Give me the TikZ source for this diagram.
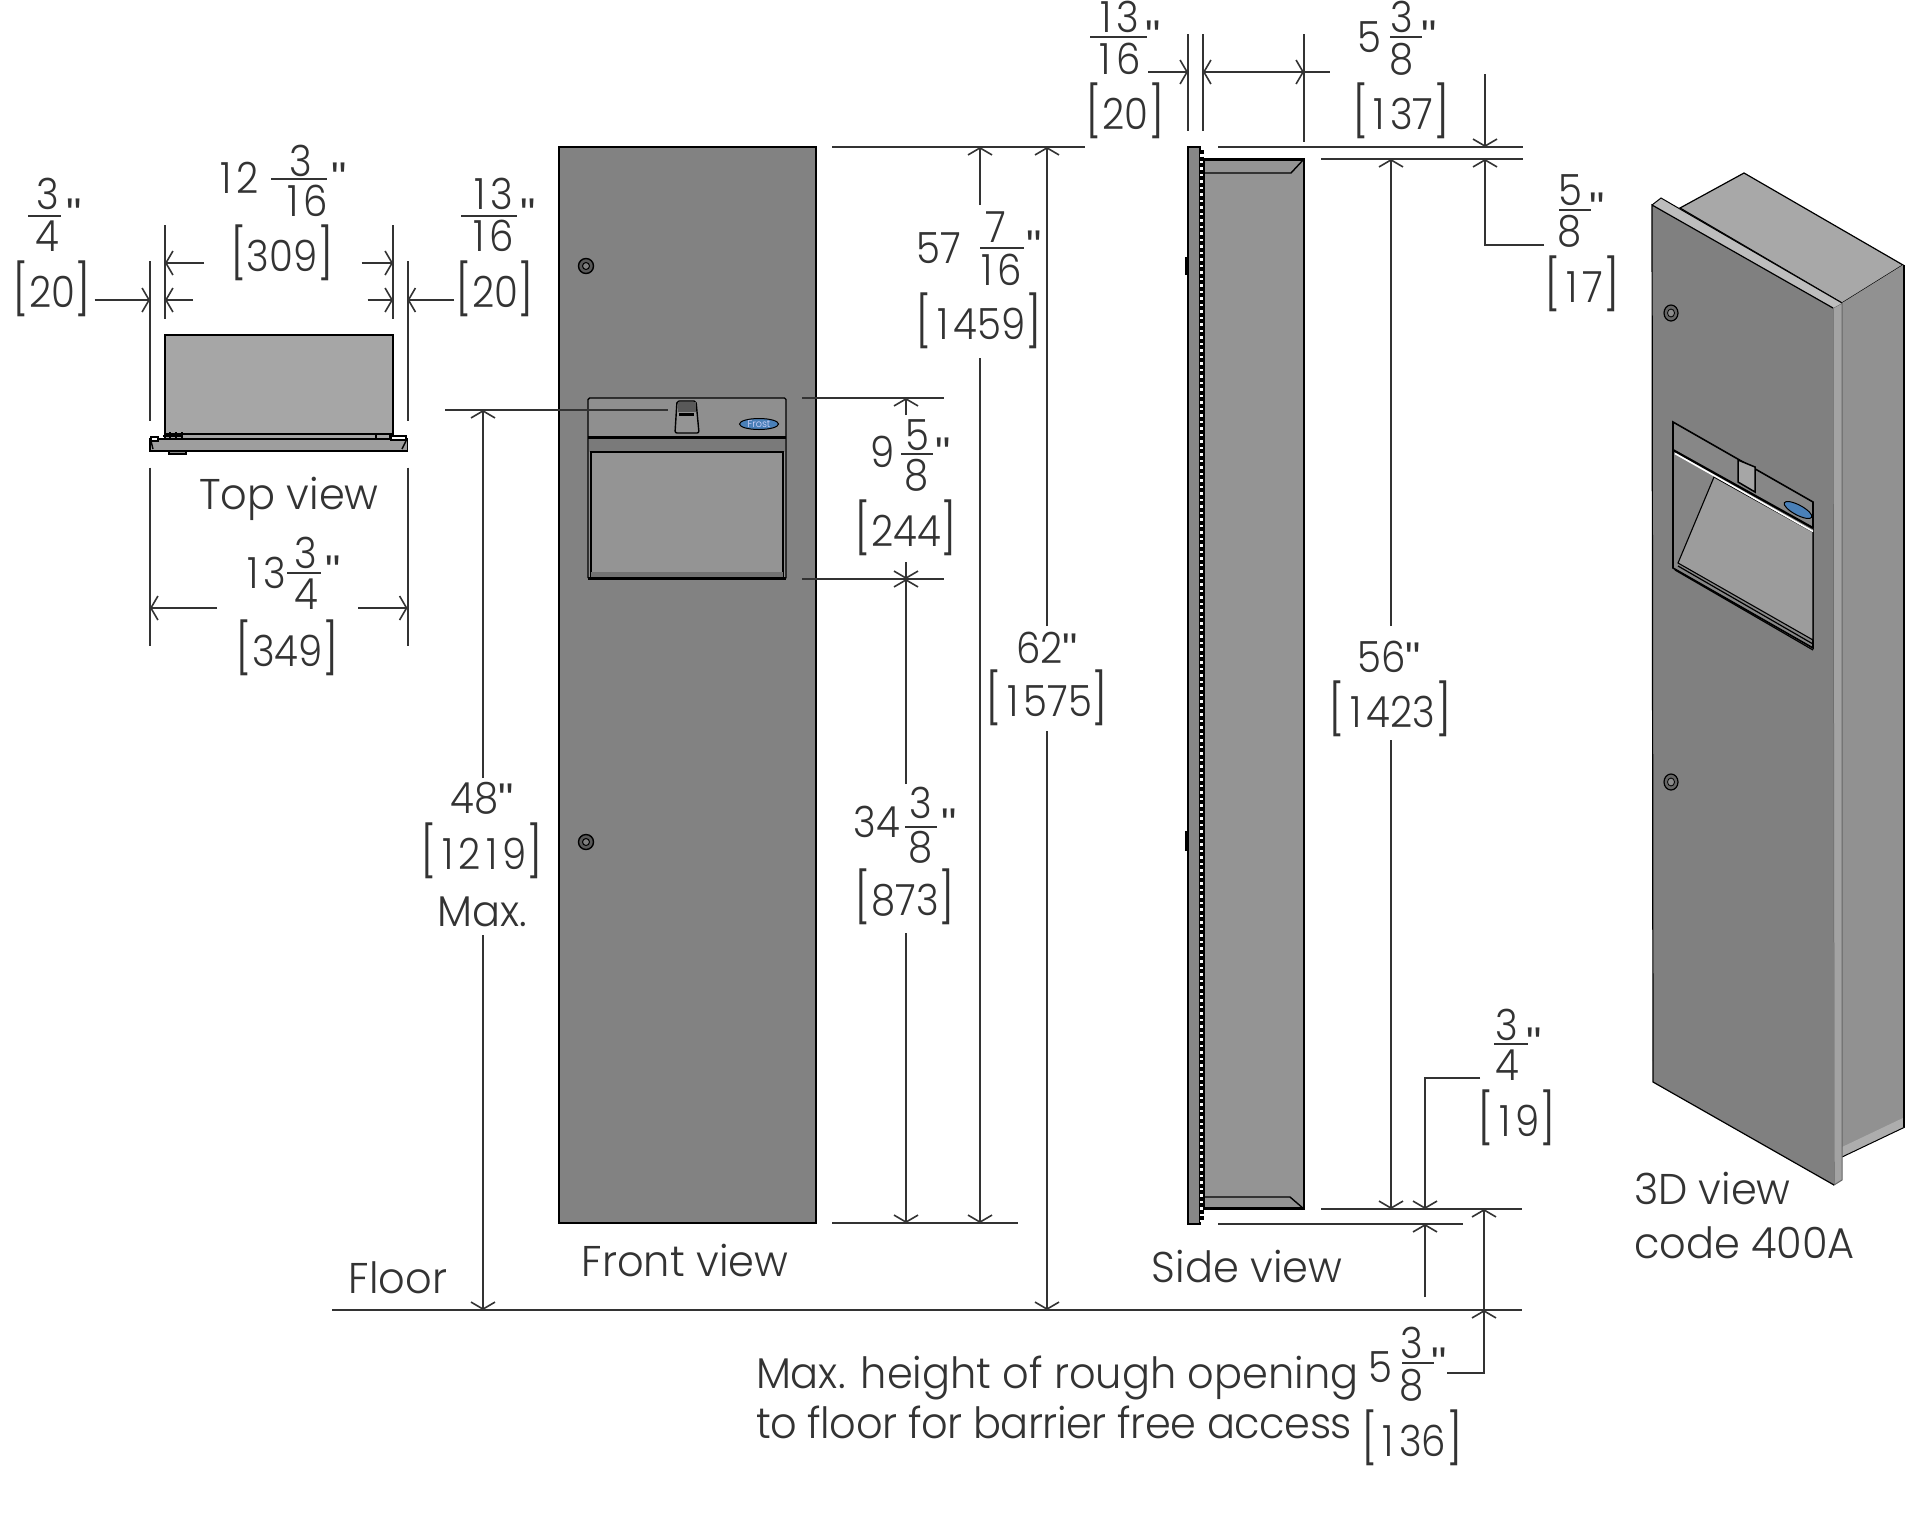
\documentclass[tikz,border=0pt]{standalone}
\usepackage{fontspec}
\setmainfont{Poppins Light}[FakeStretch=0.965]
\newfontfamily\dfont{Poppins Light}[FakeStretch=0.90]
\newfontfamily\inchf{Liberation Sans}
\usetikzlibrary{arrows.meta}
\definecolor{ink}{HTML}{333333}
\definecolor{logoblue}{HTML}{4A80B8}
\tikzset{
  barb/.tip={Straight Barb[length=7pt,width=24pt,line width=1.6pt]},
  dimln/.style={draw=ink,line width=2pt},
  thin ln/.style={draw=black,line width=1.4pt},
  lbl/.style={anchor=base,inner sep=0pt,outer sep=0pt,text=ink,font=\fontsize{43}{48}\selectfont\dfont,yshift=-15pt},
  wlbl/.style={lbl,font=\fontsize{43}{48}\selectfont\rmfamily},
  inchm/.style={lbl,font=\fontsize{43}{48}\selectfont\inchf,yshift=-10pt},
}
\newcommand{\I}{\makebox[0.5em][c]{1}}
\newcommand{\Q}{{\inchf"}}
\newcommand{\Br}[1]{{\fontsize{50}{50}\selectfont[}#1{\fontsize{50}{50}\selectfont]}}
\newcommand{\Lbl}[4]{\node[lbl] (#1) at (#2,#3) {#4};}
\newcommand{\Wrd}[4]{\node[wlbl] (#1) at (#2,#3) {#4};}
\newcommand{\Inch}[3]{\node[inchm] (#1) at (#2,#3) {"};}
\newcommand{\FracL}[9]{%
  \draw[dimln] (#2,#4) -- (#3,#4);
  \node[lbl] (#1n) at (#5,#6) {#9};
  \FracDen{#1}{#7}{#8}}
\newcommand{\FracDen}[4]{\node[lbl] (#1d) at (#2,#3) {#4};}
\begin{document}
\begin{tikzpicture}[x=1pt,y=-1pt]
\useasboundingbox (0,0) rectangle (1905,1521);
\fill[white] (0,0) rectangle (1905,1521);

% ---------- Top view
\filldraw[fill=black!35,thin ln] (165,335) rectangle (393,439);
\draw[thin ln] (165,434) -- (393,434);
\filldraw[fill=black!38,thin ln] (150,439) rectangle (407.5,451);
\filldraw[fill=black!45,thin ln] (169,451) rectangle (186,454);
\filldraw[fill=white,thin ln] (151,437) rectangle (158,441);
\filldraw[fill=white,thin ln] (391,436) rectangle (406,440);
\draw[thin ln] (151,441) -- (153,449) (406,441) -- (402,449);
\draw[thin ln] (163,436) -- (183,436) (165,433) -- (165,438) (170,432) -- (170,438) (176,432) -- (176,438) (182,432) -- (182,438);
\draw[thin ln] (376,434) -- (376,439) (390,433) -- (390,438);
\draw[dimln] (165,225) -- (165,319) (393,225) -- (393,319);
\draw[dimln] (150,261) -- (150,421) (407.5,261) -- (407.5,421);
\draw[dimln] (150,467.5) -- (150,646) (407.5,467.5) -- (407.5,646);
\draw[dimln,-barb] (204,263) -- (165,263);
\draw[dimln,-barb] (361.5,263) -- (393,263);
\draw[dimln,-barb] (193,300) -- (165,300);
\draw[dimln,-barb] (367.5,300) -- (393,300);
\draw[dimln,-barb] (94.6,300) -- (150,300);
\draw[dimln,-barb] (454,300) -- (407.5,300);
\draw[dimln,-barb] (217,608) -- (150,608);
\draw[dimln,-barb] (358,608) -- (407.5,608);

\FracL{a}{28}{61}{216}{47.5}{194}{47}{236}{3}{4}
\Inch{ai}{74}{203}
\Lbl{ab}{52}{292}{\Br{20}}
\Lbl{bw}{237}{178}{\I 2}
\FracL{b}{271}{327}{179}{301}{161}{305}{201}{3}{\I 6}
\Inch{bi}{339}{167}
\Lbl{bb}{282}{256}{\Br{309}}
\FracL{c}{461}{517}{216}{491}{194}{491}{236}{\I 3}{\I 6}
\Inch{ci}{528}{203}
\Lbl{cb}{495}{292}{\Br{20}}
\Wrd{topv}{289}{494}{Top view}
\Lbl{dw}{264}{573}{\I 3}
\FracL{d}{287}{321}{573}{306}{553}{306}{594}{3}{4}
\Inch{di}{333}{560}
\Lbl{db}{287.5}{651}{\Br{349}}

% ---------- Front view
\filldraw[fill=black!49,draw=black,line width=1.2pt] (559,147) rectangle (816,1223);
\filldraw[fill=black!44,thin ln,rounded corners=1.5pt] (588,398) rectangle (786,579);
\fill[black!52] (589,437) rectangle (785,452);
\draw[black,line width=3pt] (588,437.5) -- (786,437.5);
\filldraw[fill=black!42,thin ln] (591,452) rectangle (783,577);
\fill[black!55] (591,572) rectangle (783,578);
\draw[black,line width=2.5pt] (588,578.5) -- (786,578.5);
\filldraw[fill=black!42,thin ln,rounded corners=2pt] (677,401) -- (696,401) -- (699,433) -- (675,433) -- cycle;
\fill[black!65] (677.5,402) rectangle (695.5,412);
\fill[black] (679,413) rectangle (694,416);
\filldraw[fill=logoblue,draw=black,line width=1pt] (759,424) ellipse (19.5 and 5.5);
\node[inner sep=0pt,text=white!85!blue,font=\fontsize{10}{10}\selectfont] (frostf) at (759,424) {Frost};
\foreach \cy in {266,842} {
  \filldraw[fill=black!65,draw=black,line width=1.4pt] (586,\cy) circle (7.5);
  \filldraw[fill=black!50,draw=black,line width=1pt] (586,\cy) circle (3.5);
}
\draw[dimln] (832,147) -- (1085,147);
\draw[dimln] (832,1223) -- (1018,1223);
\draw[dimln] (802,398) -- (944,398) (802,579) -- (944,579);
\draw[dimln] (445,410) -- (668,410);
\draw[dimln,-barb] (483,778) -- (483,410);
\draw[dimln,-barb] (483,935) -- (483,1310);
\draw[dimln,-barb] (906,415) -- (906,398);
\draw[dimln,-barb] (906,562) -- (906,579);
\draw[dimln,-barb] (906,784) -- (906,579);
\draw[dimln,-barb] (906,933) -- (906,1223);
\draw[dimln,-barb] (980,205) -- (980,147);
\draw[dimln,-barb] (980,358) -- (980,1223);
\draw[dimln,-barb] (1047,626) -- (1047,147);
\draw[dimln,-barb] (1047,731) -- (1047,1310);

\Lbl{e1}{482}{798}{48\Q}
\Lbl{e2}{482}{854}{\Br{\I 2\I 9}}
\Wrd{e3}{482}{911}{Max.}
\Lbl{fw}{883}{452}{9}
\FracL{f}{901}{933}{454}{917}{435}{917}{475}{5}{8}
\Inch{fi}{943}{442}
\Lbl{fb}{906}{531}{\Br{244}}
\Lbl{gw}{877}{822}{34}
\FracL{g}{905}{937}{827}{921}{803}{921}{847}{3}{8}
\Inch{gi}{949}{813}
\Lbl{gb}{905}{900}{\Br{873}}
\Lbl{hw}{939}{248}{57}
\FracL{h}{980}{1024}{248}{996}{227}{999}{270}{7}{\I 6}
\Inch{hi}{1034}{235}
\Lbl{hb}{979}{324}{\Br{\I 459}}
\Lbl{i1}{1047}{648}{62\Q}
\Lbl{i2}{1047}{701}{\Br{\I 575}}
\Wrd{frontv}{685}{1261}{Front view}
\Wrd{floor}{398}{1278}{Floor}

% ---------- Side view
\filldraw[fill=black!47,draw=black,line width=1.2pt] (1188,147) rectangle (1200,1224);
\fill[white] (1200,150) rectangle (1204,1222);
\draw[black,line width=3.5pt,dash pattern=on 4pt off 2.5pt] (1202,150) -- (1202,1222);
\filldraw[fill=black!42,draw=black,line width=1.5pt] (1204,159) rectangle (1304,1209);
\draw[black,line width=2.5pt] (1204,159.5) -- (1304,159.5) (1204,1208.5) -- (1304,1208.5);
\draw[thin ln] (1204,173) -- (1291,173) -- (1304,159);
\draw[thin ln] (1204,1197) -- (1290,1197) -- (1304,1209);
\filldraw[fill=black!45,thin ln] (1186,258) rectangle (1188,274);
\filldraw[fill=black!45,thin ln] (1186,832) rectangle (1188,850);
\draw[dimln] (1188,34) -- (1188,131) (1203,34) -- (1203,131) (1304,34) -- (1304,142);
\draw[dimln] (1218,147) -- (1523,147) (1321,159) -- (1523,159);
\draw[dimln] (1321,1209) -- (1522,1209) (1218,1224) -- (1463,1224);
\draw[dimln,-barb] (1148,72) -- (1188,72);
\draw[dimln,barb-barb] (1203,72) -- (1304,72);
\draw[dimln] (1304,72) -- (1330,72);
\draw[dimln,-barb] (1485,74) -- (1485,147);
\draw[dimln,-barb] (1544,245) -- (1485,245) -- (1485,159);
\draw[dimln,-barb] (1391,626) -- (1391,159);
\draw[dimln,-barb] (1391,740) -- (1391,1209);
\draw[dimln,-barb] (1480,1078) -- (1425,1078) -- (1425,1209);
\draw[dimln,-barb] (1425,1297) -- (1425,1224);
\draw[dimln,-barb] (1484,1310) -- (1484,1209);
\draw[dimln,-barb] (1447,1373) -- (1484,1373) -- (1484,1310);
\draw[dimln] (332,1310) -- (1522,1310);

\FracL{j}{1090}{1147}{37}{1117.5}{17}{1117.5}{59}{\I 3}{\I 6}
\Inch{ji}{1153}{25}
\Lbl{jb}{1125}{114}{\Br{20}}
\Lbl{kw}{1369}{37}{5}
\FracL{k}{1390}{1422}{37}{1402}{17}{1402}{59}{3}{8}
\Inch{ki}{1429}{25}
\Lbl{kb}{1401}{114}{\Br{\I 37}}
\FracL{l}{1559}{1591}{210}{1570}{190}{1570}{231}{5}{8}
\Inch{li}{1597}{197}
\Lbl{lb}{1582}{287}{\Br{\I 7}}
\Lbl{m1}{1389}{657}{56\Q}
\Lbl{m2}{1390}{712}{\Br{\I 423}}
\FracL{n}{1494}{1528}{1044}{1507}{1025}{1507}{1065}{3}{4}
\Inch{ni}{1534}{1032}
\Lbl{nb}{1517}{1121}{\Br{\I 9}}
\Lbl{oww}{1380}{1367}{5}
\FracL{o}{1402}{1434}{1363}{1412}{1343}{1412}{1385}{3}{8}
\Inch{oi}{1439}{1352}
\Lbl{ob}{1412}{1441}{\Br{\I 36}}
\Wrd{sidev}{1247}{1267}{Side view}
\node[wlbl,anchor=base west] (note1) at (756,1373) {Max. height of rough opening};
\node[wlbl,anchor=base west] (note2) at (756,1423) {\addfontfeature{LetterSpace=-1.1}to floor for barrier free access};

% ---------- 3D view
\filldraw[fill=black!34,draw=black,line width=1.2pt] (1680,208) -- (1744,173) -- (1903,265) -- (1842,303) -- cycle;
\filldraw[fill=black!43,draw=none] (1842,303) -- (1903,265) -- (1905,265) -- (1905,1127) -- (1842,1157) -- cycle;
\fill[black!32] (1842,1147) -- (1905,1117) -- (1905,1127) -- (1842,1157) -- cycle;
\draw[black,line width=2pt] (1904,265) -- (1904,1127);
\draw[black,line width=1pt] (1842,1157) -- (1905,1127);
\filldraw[fill=black!36,draw=black!60,line width=1pt] (1833,308) -- (1842,303) -- (1842,1180) -- (1834,1185) -- cycle;
\filldraw[fill=black!26,draw=none] (1652,205) -- (1661,198) -- (1842,303) -- (1833,308) -- cycle;
\draw[black,line width=1pt] (1652,205) -- (1661,198) -- (1842,303);
\fill[black!50] (1652,205) -- (1833,308) -- (1834,1185) -- (1653,1082) -- cycle;
\draw[black,line width=1.2pt] (1833,308) -- (1652,205) -- (1653,1082) -- (1834,1185);
\foreach \cy in {313,782} {
  \filldraw[fill=black!60,draw=black,line width=1.2pt] (1671,\cy) ellipse (7 and 8);
  \filldraw[fill=black!45,draw=black,line width=0.8pt] (1671,\cy) ellipse (3.5 and 4);
}
\filldraw[fill=black!47,draw=black,line width=1.6pt] (1673,422) -- (1813,502) -- (1813,648) -- (1673,568) -- cycle;
\fill[black!48] (1674,450) -- (1813,528) -- (1813,640) -- (1676,562) -- cycle;
\filldraw[fill=black!39,draw=black,line width=1.1pt] (1714,477) -- (1813,532) -- (1813,640) -- (1678,563) -- cycle;
\draw[black,line width=2.2pt] (1673,450) -- (1813,528);
\draw[white,line width=1.6pt] (1675,453.5) -- (1813,531.5);
\draw[black,line width=1.2pt] (1678,566) -- (1813,644);
\draw[black,line width=1.2pt] (1675,570) -- (1813,650);
\filldraw[fill=black!35,draw=black,line width=1.5pt] (1738,460) -- (1755,467) -- (1755,492) -- (1738,482) -- cycle;
\filldraw[fill=logoblue,draw=black,line width=1pt,rotate around={-28:(1798,510)}] (1798,510) ellipse (15.5 and 5);
\node[wlbl,anchor=base west] (tdv) at (1634,1189) {3D view};
\node[wlbl,anchor=base west] (tdc) at (1634,1243) {code 400A};
\end{tikzpicture}
\end{document}
